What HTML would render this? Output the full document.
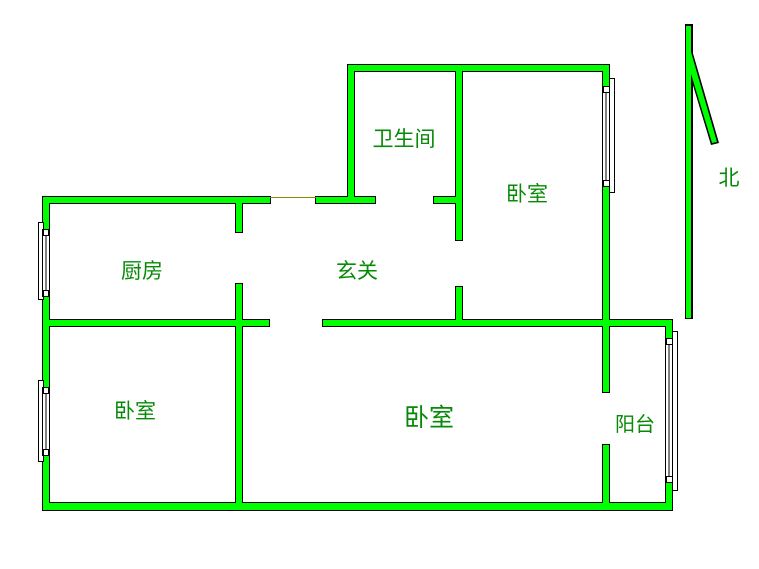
<!DOCTYPE html>
<html><head><meta charset="utf-8"><style>
html,body{margin:0;padding:0;background:#fff;width:759px;height:569px;overflow:hidden}
text{font-family:"Liberation Sans","Noto Sans CJK SC",sans-serif;fill:#078a07}
</style></head><body>
<svg width="759" height="569" xmlns="http://www.w3.org/2000/svg">
<g fill="#000">
<rect x="42" y="196" width="229" height="8"/>
<rect x="315" y="196" width="61" height="8"/>
<rect x="433" y="196" width="30" height="8"/>
<rect x="347" y="64" width="263" height="8"/>
<rect x="347" y="64" width="8" height="140"/>
<rect x="602" y="64" width="8" height="262"/>
<rect x="455" y="64" width="8" height="177"/>
<rect x="455" y="286" width="8" height="40"/>
<rect x="235" y="196" width="8" height="37"/>
<rect x="235" y="283" width="8" height="228"/>
<rect x="42" y="319" width="228" height="8"/>
<rect x="322" y="319" width="351" height="8"/>
<rect x="42" y="196" width="8" height="315"/>
<rect x="42" y="502" width="631" height="9"/>
<rect x="665" y="319" width="8" height="192"/>
<rect x="602" y="319" width="8" height="74"/>
<rect x="602" y="444" width="8" height="67"/>
<rect x="685" y="24" width="8" height="295"/>
<polygon points="686,24 692,50 719,143 711,145 686,62"/>
</g>
<g fill="#00ff00">
<rect x="43" y="197" width="227" height="6"/>
<rect x="316" y="197" width="59" height="6"/>
<rect x="434" y="197" width="28" height="6"/>
<rect x="348" y="65" width="261" height="6"/>
<rect x="348" y="65" width="6" height="138"/>
<rect x="603" y="65" width="6" height="260"/>
<rect x="456" y="65" width="6" height="175"/>
<rect x="456" y="287" width="6" height="38"/>
<rect x="236" y="197" width="6" height="35"/>
<rect x="236" y="284" width="6" height="226"/>
<rect x="43" y="320" width="226" height="6"/>
<rect x="323" y="320" width="349" height="6"/>
<rect x="43" y="197" width="6" height="313"/>
<rect x="43" y="503" width="629" height="7"/>
<rect x="666" y="320" width="6" height="190"/>
<rect x="603" y="320" width="6" height="72"/>
<rect x="603" y="445" width="6" height="65"/>
<rect x="686" y="26" width="5" height="292"/>
<polygon points="688,32 691,52 717,142 712,143 688,64"/>
</g>
<line x1="270" y1="197.5" x2="316" y2="197.5" stroke="#8a8a00" stroke-width="1"/>
<g fill="#fff" stroke="#000" stroke-width="1">
<rect x="38.5" y="222.5" width="5" height="77"/>
<rect x="42.5" y="229.5" width="7" height="67"/>
<rect x="43.5" y="229.5" width="5" height="6"/><rect x="43.5" y="290.5" width="5" height="6"/>
<line x1="46" y1="236" x2="46" y2="290"/>
<rect x="38.5" y="380.5" width="5" height="81"/>
<rect x="42.5" y="387.5" width="7" height="68"/>
<rect x="43.5" y="387.5" width="5" height="6"/><rect x="43.5" y="449.5" width="5" height="6"/>
<line x1="46" y1="394" x2="46" y2="449"/>
<rect x="609.5" y="78.5" width="5" height="114"/>
<rect x="602.5" y="86.5" width="7" height="100"/>
<rect x="603.5" y="86.5" width="6" height="6"/><rect x="603.5" y="180.5" width="6" height="6"/>
<line x1="606" y1="93" x2="606" y2="180"/>
<rect x="672.5" y="331.5" width="5" height="159"/>
<rect x="665.5" y="338.5" width="7" height="144"/>
<rect x="666.5" y="338.5" width="6" height="6"/><rect x="666.5" y="476.5" width="6" height="6"/>
<line x1="669" y1="345" x2="669" y2="476"/>
</g>
<text x="404" y="146" font-size="21" text-anchor="middle">卫生间</text>
<text x="527" y="201" font-size="21" text-anchor="middle">卧室</text>
<text x="142" y="278" font-size="21" text-anchor="middle">厨房</text>
<text x="357" y="278" font-size="21" text-anchor="middle">玄关</text>
<text x="135" y="418" font-size="21" text-anchor="middle">卧室</text>
<text x="429" y="426" font-size="25" text-anchor="middle">卧室</text>
<text x="635" y="431" font-size="20" text-anchor="middle">阳台</text>
<text x="729" y="185" font-size="21" text-anchor="middle">北</text>
</svg>
</body></html>
